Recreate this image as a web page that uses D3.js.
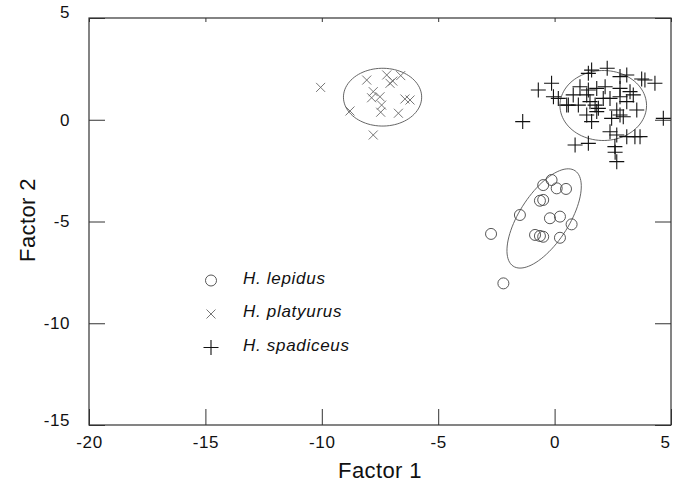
<!DOCTYPE html>
<html>
<head>
<meta charset="utf-8">
<script src="https://cdn.jsdelivr.net/npm/d3@7"></script>
<style>
  body { margin: 0; background: #fff; }
  text { font-family: "Liberation Sans", Arial, sans-serif; }
</style>
</head>
<body>
<svg id="chart" width="673" height="492"></svg>
<script>
// 資料: Factor 1 / Factor 2 scores
const lepidusX = [-0.49, -0.13, 0.09, 0.49, -0.63, -0.49, -1.49, -0.2, 0.23, 0.73, -0.84, -0.63, -0.49, 0.23, -2.73, -2.2];
const lepidusY = [-3.21, -2.96, -3.37, -3.4, -3.98, -3.94, -4.68, -4.84, -4.76, -5.14, -5.66, -5.71, -5.75, -5.8, -5.61, -8.04];

const platyurusX = [-10.05, -8.07, -7.21, -6.61, -7.07, -6.95, -7.79, -7.5, -7.86, -7.43, -7.47, -6.71, -6.43, -6.21, -8.79, -7.79];
const platyurusY = [1.59, 1.95, 2.2, 2.17, 1.79, 1.9, 1.38, 1.13, 1.08, 0.72, 0.37, 0.32, 1.02, 0.97, 0.43, -0.75];

const spadiceusX = [-1.37, -0.7, -0.13, -0.05, 0.16, 0.59, 0.8, 1.09, 1.45, 1.59, 2.26, 2.81, 3.1, 3.74, 3.88, 4.31, 4.67,
  1.45, 1.38, 1.52, 1.74, 1.88, 1.81, 1.38, 1.59, 2.09, 2.38, 2.81, 2.81, 3.1, 3.38, 2.67, 2.81, 2.95, 2.45,
  2.38, 2.67, 3.1, 3.45, 3.67, 0.88, 1.45, 2.59, 2.67, 2.6, 0.52, 1.02, 1.81, 2.17, 3.24, 3.53];
const spadiceusY = [-0.09, 1.46, 1.79, 1.13, 1.05, 0.72, 1.22, 1.62, 2.28, 2.44, 2.53, 2.12, 2.2, 2.0, 1.95, 1.79, 0.07,
  1.46, 1.22, 0.89, 0.72, 0.56, 0.4, 0.23, -0.09, 1.05, 1.05, 1.54, 1.13, 0.89, 1.22, 0.48, 0.23, 0.15, 0.07,
  -0.59, -0.75, -0.83, -0.83, -0.83, -1.24, -1.16, -1.32, -2.06, -1.6, 0.72, 0.72, 1.54, 1.62, 1.38, 0.48];

// 橢圓: 中心, 半軸, 角度 (data 單位)
const ellipses = [
  {cx: -0.45, cy: -4.85, rx: 2.7, ry: 1.1, angle: 62},
  {cx: -7.39, cy: 1.11, rx: 1.68, ry: 1.42, angle: 0},
  {cx: 2.09, cy: 0.7, rx: 1.86, ry: 1.72, angle: 0}
];

const legendLabels = ["H. lepidus", "H. platyurus", "H. spadiceus"];
const xTicks = [-20, -15, -10, -5, 0, 5];
const yTicks = [-15, -10, -5, 0, 5];

const margin = {top: 18, right: 2, bottom: 67, left: 89};
const width = 673 - margin.left - margin.right;
const height = 492 - margin.top - margin.bottom;

const svg = d3.select("#chart")
  .append("g")
  .attr("transform", `translate(${margin.left},${margin.top})`);

const x = d3.scaleLinear().domain([-20, 5]).range([0, width]);
const y = d3.scaleLinear().domain([-15, 5]).range([height, 0]);

// 軸
const fmt = d => d;
const styleAxis = g => {
  g.select(".domain").remove();
  g.selectAll("line").attr("stroke", "#333");
  g.selectAll("text").attr("font-size", 17).attr("letter-spacing", 0.6).attr("fill", "#111");
};

svg.append("g")
  .attr("transform", `translate(0,${height})`)
  .call(d3.axisBottom(x).tickValues(xTicks).tickFormat(fmt).tickSize(-16).tickPadding(11))
  .call(styleAxis)
  .selectAll("text")
  .attr("dx", d => d === 5 ? -6 : 0);

svg.append("g")
  .call(d3.axisLeft(y).tickValues(yTicks).tickFormat(fmt).tickSize(-16).tickPadding(19))
  .call(styleAxis)
  .selectAll("text")
  .attr("dy", d => d === 5 ? "-0.05em" : (d === -15 ? "0.05em" : "0.32em"));

svg.append("g")
  .call(d3.axisTop(x).tickValues(xTicks).tickFormat("").tickSize(-4))
  .call(styleAxis);

svg.append("g")
  .attr("transform", `translate(${width},0)`)
  .call(d3.axisRight(y).tickValues(yTicks).tickFormat("").tickSize(-16))
  .call(styleAxis);

// 外框
svg.append("rect")
  .attr("x", 0).attr("y", 0)
  .attr("width", width).attr("height", height)
  .attr("fill", "none")
  .attr("stroke", "#333")
  .attr("stroke-width", 1.2);

// 橢圓 (經由 scale 繪製)
const line = d3.line().x(d => x(d[0])).y(d => y(d[1]));
ellipses.forEach(e => {
  const a = e.angle * Math.PI / 180;
  const pts = d3.range(0, 361, 4).map(t => {
    const r = t * Math.PI / 180;
    const ux = e.rx * Math.cos(r), uy = e.ry * Math.sin(r);
    return [e.cx + ux * Math.cos(a) - uy * Math.sin(a), e.cy + ux * Math.sin(a) + uy * Math.cos(a)];
  });
  svg.append("path")
    .attr("d", line(pts))
    .attr("fill", "none")
    .attr("stroke", "#555")
    .attr("stroke-width", 0.9);
});

// 標記
const circleMark = (g, cx, cy) => g.append("circle")
  .attr("cx", cx).attr("cy", cy).attr("r", 5.5)
  .attr("fill", "none").attr("stroke", "#444").attr("stroke-width", 0.9);

const crossMark = (g, cx, cy) => g.append("path")
  .attr("d", `M${cx - 4.5},${cy - 4.5}L${cx + 4.5},${cy + 4.5}M${cx - 4.5},${cy + 4.5}L${cx + 4.5},${cy - 4.5}`)
  .attr("stroke", "#666").attr("stroke-width", 0.9);

const plusMark = (g, cx, cy) => g.append("path")
  .attr("d", `M${cx - 7.5},${cy}L${cx + 7.5},${cy}M${cx},${cy - 7.5}L${cx},${cy + 7.5}`)
  .attr("stroke", "#111").attr("stroke-width", 1.1);

const pts = svg.append("g");
lepidusX.forEach((v, i) => circleMark(pts, x(v), y(lepidusY[i])));
platyurusX.forEach((v, i) => crossMark(pts, x(v), y(platyurusY[i])));
spadiceusX.forEach((v, i) => plusMark(pts, x(v), y(spadiceusY[i])));

// 圖例
const marks = [circleMark, crossMark, plusMark];
const legend = d3.select("#chart").append("g");
legendLabels.forEach((label, i) => {
  const base = 283.5 + i * 33.5;
  marks[i](legend, 211, base - 3);
  legend.append("text")
    .attr("x", 243).attr("y", base)
    .attr("font-size", 17)
    .attr("letter-spacing", 0.7)
    .attr("font-style", "italic")
    .attr("fill", "#111")
    .text(label);
});

// 軸標題
d3.select("#chart").append("text")
  .attr("x", 380).attr("y", 478)
  .attr("text-anchor", "middle")
  .attr("font-size", 22)
  .attr("letter-spacing", 0.4)
  .attr("fill", "#111")
  .text("Factor 1");

d3.select("#chart").append("text")
  .attr("transform", "translate(35,220) rotate(-90)")
  .attr("text-anchor", "middle")
  .attr("font-size", 22)
  .attr("letter-spacing", 0.4)
  .attr("fill", "#111")
  .text("Factor 2");
</script>
</body>
</html>
